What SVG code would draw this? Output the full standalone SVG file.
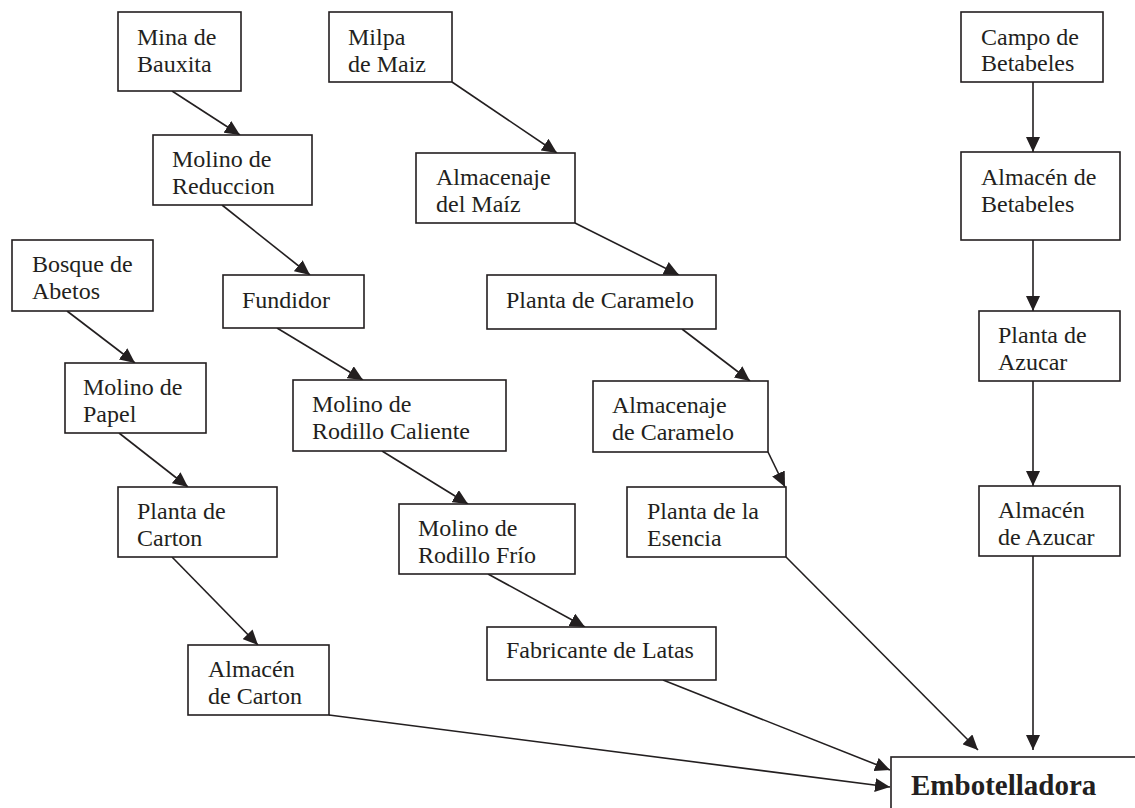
<svg xmlns="http://www.w3.org/2000/svg" width="1135" height="808" viewBox="0 0 1135 808">
<style>
.box{fill:#fff;stroke:#231f20;stroke-width:1.6}
.t{font-family:"Liberation Serif","Times New Roman",serif;font-size:24px;fill:#231f20}
.tb{font-family:"Liberation Serif","Times New Roman",serif;font-size:29px;font-weight:bold;fill:#231f20}
.c{stroke:#231f20;stroke-width:1.6;fill:none;marker-end:url(#ah)}
</style>
<defs>
<marker id="ah" markerUnits="userSpaceOnUse" markerWidth="16" markerHeight="14" refX="15" refY="7" orient="auto">
<path d="M0,0 L15,7 L0,14 z" fill="#231f20"/>
</marker>
</defs>
<rect width="1135" height="808" fill="#fff"/>
<g id="connectors">
<line class="c" x1="172" y1="91" x2="240" y2="135"/>
<line class="c" x1="222" y1="205" x2="310" y2="275"/>
<line class="c" x1="277" y1="328" x2="363" y2="380"/>
<line class="c" x1="382" y1="451" x2="468" y2="504"/>
<line class="c" x1="488" y1="574" x2="585" y2="627"/>
<line class="c" x1="663" y1="680" x2="890" y2="770"/>
<line class="c" x1="67" y1="311" x2="135" y2="363"/>
<line class="c" x1="119" y1="433" x2="188" y2="487"/>
<line class="c" x1="172" y1="557" x2="258" y2="645"/>
<line class="c" x1="329" y1="715" x2="890" y2="787"/>
<line class="c" x1="452" y1="82" x2="557" y2="153"/>
<line class="c" x1="575" y1="223" x2="679" y2="275"/>
<line class="c" x1="682" y1="329" x2="750" y2="381"/>
<line class="c" x1="768" y1="452" x2="785" y2="487"/>
<line class="c" x1="786" y1="557" x2="978" y2="750"/>
<line class="c" x1="1033" y1="82" x2="1033" y2="152"/>
<line class="c" x1="1033" y1="240" x2="1033" y2="311"/>
<line class="c" x1="1033" y1="381" x2="1033" y2="486"/>
<line class="c" x1="1033" y1="556" x2="1033" y2="750"/>
</g>
<g id="mina"><rect class="box" x="118" y="12" width="123" height="79"/><text class="t" x="137" y="45">Mina de</text><text class="t" x="137" y="72">Bauxita</text></g>
<g id="reduccion"><rect class="box" x="153" y="135" width="159" height="70"/><text class="t" x="172" y="167">Molino de</text><text class="t" x="172" y="194">Reduccion</text></g>
<g id="fundidor"><rect class="box" x="223" y="275" width="141" height="53"/><text class="t" x="242" y="308">Fundidor</text></g>
<g id="caliente"><rect class="box" x="293" y="380" width="213" height="71"/><text class="t" x="312" y="412">Molino de</text><text class="t" x="312" y="439">Rodillo Caliente</text></g>
<g id="frio"><rect class="box" x="399" y="504" width="176" height="70"/><text class="t" x="418" y="536">Molino de</text><text class="t" x="418" y="563">Rodillo Frío</text></g>
<g id="latas"><rect class="box" x="487" y="627" width="229" height="53"/><text class="t" x="506" y="658">Fabricante de Latas</text></g>
<g id="bosque"><rect class="box" x="12" y="240" width="141" height="71"/><text class="t" x="32" y="272">Bosque de</text><text class="t" x="32" y="299">Abetos</text></g>
<g id="papel"><rect class="box" x="65" y="363" width="141" height="70"/><text class="t" x="83" y="395">Molino de</text><text class="t" x="83" y="422">Papel</text></g>
<g id="pcarton"><rect class="box" x="118" y="487" width="159" height="70"/><text class="t" x="137" y="519">Planta de</text><text class="t" x="137" y="546">Carton</text></g>
<g id="acarton"><rect class="box" x="188" y="645" width="141" height="70"/><text class="t" x="208" y="677">Almacén</text><text class="t" x="208" y="704">de Carton</text></g>
<g id="milpa"><rect class="box" x="329" y="12" width="123" height="70"/><text class="t" x="348" y="45">Milpa</text><text class="t" x="348" y="72">de Maiz</text></g>
<g id="amaiz"><rect class="box" x="416" y="153" width="159" height="70"/><text class="t" x="436" y="185">Almacenaje</text><text class="t" x="436" y="212">del Maíz</text></g>
<g id="pcaramelo"><rect class="box" x="487" y="275" width="229" height="54"/><text class="t" x="506" y="308">Planta de Caramelo</text></g>
<g id="acaramelo"><rect class="box" x="593" y="381" width="175" height="71"/><text class="t" x="612" y="413">Almacenaje</text><text class="t" x="612" y="440">de Caramelo</text></g>
<g id="esencia"><rect class="box" x="627" y="487" width="159" height="70"/><text class="t" x="647" y="519">Planta de la</text><text class="t" x="647" y="546">Esencia</text></g>
<g id="campo"><rect class="box" x="961" y="12" width="142" height="70"/><text class="t" x="981" y="45">Campo de</text><text class="t" x="981" y="71">Betabeles</text></g>
<g id="abetabeles"><rect class="box" x="961" y="152" width="159" height="88"/><text class="t" x="981" y="185">Almacén de</text><text class="t" x="981" y="212">Betabeles</text></g>
<g id="pazucar"><rect class="box" x="979" y="311" width="141" height="70"/><text class="t" x="998" y="343">Planta de</text><text class="t" x="998" y="370">Azucar</text></g>
<g id="aazucar"><rect class="box" x="979" y="486" width="141" height="70"/><text class="t" x="998" y="518">Almacén</text><text class="t" x="998" y="545">de Azucar</text></g>
<g id="embotelladora"><rect class="box" x="891" y="757" width="260" height="70"/><text class="tb" x="911" y="795">Embotelladora</text></g>
</svg>
